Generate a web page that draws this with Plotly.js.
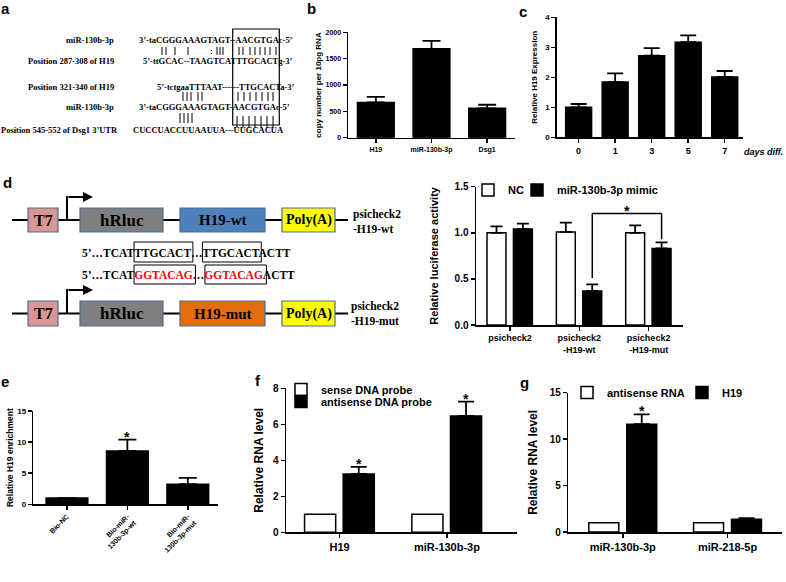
<!DOCTYPE html>
<html><head><meta charset="utf-8">
<script src="https://cdn.plot.ly/plotly-3.0.1.min.js"></script>
<style>html,body{margin:0;padding:0;background:#fff}</style>
</head><body><div id="chart" style="width:786px;height:582px"></div>
<script>
// ---------- data ----------
const bCats = ['H19', 'miR-130b-3p', 'Dsg1'];
const bVals = [670, 1686, 557];
const bErr = [106, 151, 68];

const cCats = ['0', '1', '3', '5', '7'];
const cVals = [1.0, 1.84, 2.72, 3.17, 2.01];
const cErr = [0.11, 0.29, 0.25, 0.23, 0.20];

const dCats = ['psicheck2', 'psicheck2<br>-H19-wt', 'psicheck2<br>-H19-mut'];
const dNC = [1.0, 1.01, 1.0];
const dNCErr = [0.07, 0.10, 0.08];
const dMimic = [1.04, 0.37, 0.83];
const dMimicErr = [0.06, 0.07, 0.066];

const eCats = ['Bio-NC', 'Bio-miR-<br>130b-3p-wt', 'Bio-miR-<br>130b-3p-mut'];
const eVals = [1.0, 8.57, 3.24];
const eErr = [0, 1.83, 1.02];

const fCats = ['H19', 'miR-130b-3p'];
const fSense = [1.0, 1.0];
const fAnti = [3.24, 6.46];
const fAntiErr = [0.39, 0.80];

const gCats = ['miR-130b-3p', 'miR-218-5p'];
const gAntisense = [1.0, 1.0];
const gH19 = [11.6, 1.36];
const gH19Err = [1.07, 0.12];

// ---------- helpers ----------
const W = 786, H = 582;
const px = x => x / W;
const py = y => 1 - y / H;
const SANS = 'Arial, "Liberation Sans", sans-serif';
const SERIF = '"Liberation Serif", "Times New Roman", serif';
const fnt = (size, extra) => Object.assign({family: SANS, size: size, color: '#000', weight: 'bold'}, extra || {});

function axis(domain, extra) {
  return Object.assign({
    domain: domain, showline: true, linecolor: '#000', linewidth: 1.5,
    ticks: 'outside', ticklen: 4, tickwidth: 1.5, tickcolor: '#000',
    showgrid: false, zeroline: false, fixedrange: true, tickfont: fnt(8)
  }, extra);
}
function errUp(arr, w) {
  return {type: 'data', array: arr, arrayminus: arr.map(() => 0), symmetric: false,
          color: '#000', thickness: 1.8, width: w};
}
const blackBar = {color: '#000', line: {color: '#000', width: 1.5}};
const whiteBar = {color: '#fff', line: {color: '#000', width: 1.5}};

// ---------- traces ----------
const traces = [
  {type: 'bar', x: bCats, y: bVals, xaxis: 'x', yaxis: 'y', width: 0.66, marker: blackBar,
   error_y: errUp(bErr, 9), showlegend: false},
  {type: 'bar', x: cCats, y: cVals, xaxis: 'x2', yaxis: 'y2', width: 0.71, marker: blackBar,
   error_y: errUp(cErr, 8), showlegend: false},
  {type: 'bar', name: 'NC', x: dCats, y: dNC, xaxis: 'x3', yaxis: 'y3', width: 0.273, offset: -0.331,
   marker: whiteBar, error_y: errUp(dNCErr, 6), legend: 'legend'},
  {type: 'bar', name: 'miR-130b-3p mimic', x: dCats, y: dMimic, xaxis: 'x3', yaxis: 'y3', width: 0.273, offset: 0.05,
   marker: blackBar, error_y: errUp(dMimicErr, 6), legend: 'legend2'},
  {type: 'bar', x: eCats, y: eVals, xaxis: 'x4', yaxis: 'y4', width: 0.69, marker: blackBar,
   error_y: errUp(eErr, 9), showlegend: false},
  {type: 'bar', name: 'sense DNA probe', x: fCats, y: fSense, xaxis: 'x5', yaxis: 'y5', width: 0.29, offset: -0.327,
   marker: whiteBar, legend: 'legend3'},
  {type: 'bar', name: 'antisense DNA probe', x: fCats, y: fAnti, xaxis: 'x5', yaxis: 'y5', width: 0.29, offset: 0.033,
   marker: blackBar, error_y: errUp(fAntiErr, 8), legend: 'legend4'},
  {type: 'bar', name: 'antisense RNA', x: gCats, y: gAntisense, xaxis: 'x6', yaxis: 'y6', width: 0.286, offset: -0.324,
   marker: whiteBar, legend: 'legend5'},
  {type: 'bar', name: 'H19', x: gCats, y: gH19, xaxis: 'x6', yaxis: 'y6', width: 0.286, offset: 0.038,
   marker: blackBar, error_y: errUp(gH19Err, 8), legend: 'legend6'}
];

function legendAt(x, y, size) {
  return {x: px(x), y: py(y), xanchor: 'left', yanchor: 'middle', bgcolor: 'rgba(0,0,0,0)',
          borderwidth: 0, font: fnt(size), itemclick: false, itemdoubleclick: false};
}
const ytitle = (text, size, standoff) => ({text: text, font: fnt(size), standoff: standoff});

// ---------- annotations ----------
const ann = [];
function txt(x, y, text, size, opts) {
  ann.push(Object.assign({xref: 'paper', yref: 'paper', x: px(x), y: py(y), text: text,
    showarrow: false, xanchor: 'center', yanchor: 'middle', font: fnt(size)}, opts || {}));
}
const serif = (size, color) => ({family: SERIF, size: size, color: color || '#000', weight: 'bold'});

// ---------- shapes ----------
const shapes = [];
const pline = (x0, y0, x1, y1, w) => shapes.push({type: 'line', xref: 'paper', yref: 'paper',
  x0: px(x0), y0: py(y0), x1: px(x1), y1: py(y1), line: {color: '#000', width: w || 2}});
const prect = (x0, y0, x1, y1, fill, lc, w) => shapes.push({type: 'rect', xref: 'paper', yref: 'paper',
  x0: px(x0), y0: py(y0), x1: px(x1), y1: py(y1), fillcolor: fill, line: {color: lc, width: w}});

// panel letters
[['a', 5, 9], ['b', 311, 9], ['c', 523, 11], ['d', 7, 182], ['e', 5, 381], ['f', 258, 380], ['g', 524, 382]]
  .forEach(p => txt(p[1], p[2], p[0], 15));

// panel a alignment text
const aLabels = [['miR-130b-3p', 40.5], ['Position 287-308 of H19', 61.5], ['Position 321-340 of H19', 86.5],
                 ['miR-130b-3p', 107]];
aLabels.forEach(l => txt(116, l[1], l[0], 8.5, {xanchor: 'right', font: serif(8.5)}));
txt(120, 130, 'Position 545-552 of Dsg1 3\u2019UTR', 8.5, {xanchor: 'right', font: serif(8.5)});
txt(137, 40.5, '3\u2019-taCGGGAAAGTAGT--AACGTGAc-5\u2019', 8.5, {xanchor: 'left', font: serif(8.5)});
txt(141, 61.5, '5\u2019-ttGCAC--TAAGTCATTTGCACTg-3\u2019', 8.5, {xanchor: 'left', font: serif(8.5)});
txt(155, 86.5, '5\u2019-tctgaaTTTAAT------TTGCACTa-3\u2019', 8.5, {xanchor: 'left', font: serif(8.5)});
txt(137, 107, '3\u2019-taCGGGAAAGTAGT-AACGTGAc-5\u2019', 8.5, {xanchor: 'left', font: serif(8.5)});
txt(131, 130, 'CUCCUACCUUAAUUA---UUGCACUA', 8.5, {xanchor: 'left', font: serif(8.5)});
txt(211.5, 51, ':', 8, {font: fnt(8)});
// base-pairing ticks (drawn as short strokes)
const pairRows = [
  [47, 55, [162, 166, 175, 188, 217, 220, 223, 239, 243, 250, 255, 260, 265, 270, 276]],
  [92, 101, [183, 187, 191, 198, 202, 238, 244, 250, 256, 262, 268, 273]],
  [113, 123, [180, 184, 188, 192]],
  [116, 128, [237, 243, 249, 255, 261, 267, 273]]
];
pairRows.forEach(r => r[2].forEach(x => pline(x, r[0], x, r[1], 1)));

// panel c extra text
txt(742, 152, 'days diff.', 9, {xanchor: 'left', font: fnt(9, {style: 'italic'})});

// panel d diagram text
['top', 'bottom'].forEach((row, i) => {
  const yc = i === 0 ? 220 : 313.5;
  txt(43, yc, 'T7', 16, {font: serif(16)});
  txt(121.5, yc, 'hRluc', 17, {font: serif(17)});
  txt(222.5, yc, i === 0 ? 'H19-wt' : 'H19-mut', 15, {font: serif(15)});
  txt(308.5, yc, 'Poly(A)', 14, {font: serif(14)});
});
txt(351, 221, 'psicheck2<br>-H19-wt', 11.5, {xanchor: 'left', align: 'left', font: serif(11.5)});
txt(349, 313.5, 'psicheck2<br>-H19-mut', 11.5, {xanchor: 'left', align: 'left', font: serif(11.5)});
// sequences: one text per row, boxes placed from Times-Bold glyph widths
const FS = 11.5, X0 = 82;
const wPre = 4.611 * FS, wWt = 4.945 * FS, wMut = 5.167 * FS, wDots = 1.0 * FS;
txt(X0 - 2, 252.5, '5\u2019\u2026TCATTTGCACT\u2026TTGCACTACTT', FS, {xanchor: 'left', font: serif(FS)});
txt(X0 - 2, 275, '5\u2019\u2026TCAT<span style="color:#ff0000">GGTACAG</span>\u2026' +
    '<span style="color:#ff0000">GGTACAG</span>ACTT', FS, {xanchor: 'left', font: serif(FS)});
let s1 = X0 + wPre;
prect(s1 - 1, 242, s1 + wWt + 1, 262, 'rgba(0,0,0,0)', '#000', 1);
prect(s1 + wWt + wDots - 1, 242, s1 + 2 * wWt + wDots + 1, 262, 'rgba(0,0,0,0)', '#000', 1);
prect(s1 - 1, 265, s1 + wMut + 1, 284, 'rgba(0,0,0,0)', '#000', 1);
prect(s1 + wMut + wDots - 1, 265, s1 + 2 * wMut + wDots + 1, 284, 'rgba(0,0,0,0)', '#000', 1);
// promoter arrows
[197, 290].forEach(yy => ann.push({xref: 'paper', yref: 'paper', x: px(93), y: py(yy), ax: -26, ay: 0,
  text: '', showarrow: true, arrowhead: 2, arrowsize: 1, arrowwidth: 2, arrowcolor: '#000'}));

// significance stars (data coordinates)
const star = (xref, yref, x, y) => ann.push({xref: xref, yref: yref, x: x, y: y, text: '*', showarrow: false,
  yanchor: 'middle', yshift: -3, font: fnt(14)});
star('x3', 'y3', 1.69, 1.27);
star('x4', 'y4', 1, 11.3);
star('x5', 'y5', 0.178, 3.95);
star('x5', 'y5', 1.178, 7.55);
star('x6', 'y6', 0.181, 13.4);

// panel a box
prect(232.7, 29, 279.3, 125, 'rgba(0,0,0,0)', '#000', 1.2);
// panel d constructs
pline(12, 220, 348, 220, 2);
pline(12, 313.5, 348, 313.5, 2);
const OL = '#4a6d94';
prect(28, 208, 58, 232, '#d99694', OL, 1.2);
prect(80, 208, 163, 232, '#7f7f7f', OL, 1.2);
prect(180, 208, 265, 232, '#4f81bd', OL, 1.2);
prect(282, 208, 335, 232, '#ffff00', OL, 1.2);
prect(28, 301, 58, 326, '#d99694', OL, 1.2);
prect(80, 301, 163, 326, '#7f7f7f', OL, 1.2);
prect(180, 301, 265, 326, '#e46c0a', OL, 1.2);
prect(282, 301, 335, 326, '#ffff00', OL, 1.2);
pline(67, 220, 67, 196, 2);
pline(67, 313.5, 67, 289, 2);
// significance bracket on panel d (data coordinates)
const dl = (x0, y0, x1, y1) => shapes.push({type: 'line', xref: 'x3', yref: 'y3', x0: x0, y0: y0, x1: x1, y1: y1,
  line: {color: '#000', width: 1.5}});
dl(1.187, 0.51, 1.187, 1.21);
dl(1.187, 1.21, 2.187, 1.21);
dl(2.187, 1.21, 2.187, 0.93);

// ---------- layout ----------
const layout = {
  width: W, height: H, margin: {l: 0, r: 0, t: 0, b: 0}, paper_bgcolor: '#fff', plot_bgcolor: 'rgba(0,0,0,0)',
  font: {family: SANS, color: '#000'},
  xaxis: axis([px(348), px(515)], {anchor: 'y', type: 'category', range: [-0.5, 2.5], tickfont: fnt(7)}),
  yaxis: axis([py(137.7), py(32.3)], {anchor: 'x', range: [0, 2000], dtick: 500, tickfont: fnt(7),
    title: ytitle('copy number per 10pg RNA', 8, 2)}),
  xaxis2: axis([px(556.7), px(743)], {anchor: 'y2', type: 'category', range: [-0.6, 4.5], tickfont: fnt(9)}),
  yaxis2: axis([py(137.3), py(17.3)], {anchor: 'x2', range: [0, 4], dtick: 1, tickfont: fnt(8),
    title: ytitle('Relative H19 Expression', 8, 6)}),
  xaxis3: axis([px(476), px(683.3)], {anchor: 'y3', type: 'category', range: [-0.49, 2.5], tickfont: fnt(9)}),
  yaxis3: axis([py(325), py(186.7)], {anchor: 'x3', range: [0, 1.5], tickvals: [0, 0.5, 1, 1.5],
    tickformat: '.1f', tickfont: fnt(10), title: ytitle('Relative luciferase activity', 11, 13)}),
  xaxis4: axis([px(33.3), px(218)], {anchor: 'y4', type: 'category', range: [-0.557, 2.5], tickangle: -45,
    tickfont: fnt(7)}),
  yaxis4: axis([py(504.3), py(411)], {anchor: 'x4', range: [0, 15], dtick: 5, tickfont: fnt(8),
    title: ytitle('Relative H19 enrichment', 8.5, 2)}),
  xaxis5: axis([px(286), px(516.7)], {anchor: 'y5', type: 'category', range: [-0.5, 1.65], tickfont: fnt(11)}),
  yaxis5: axis([py(532.3), py(388.3)], {anchor: 'x5', range: [0, 8], dtick: 2, tickfont: fnt(10),
    title: ytitle('Relative RNA level', 12, 6)}),
  xaxis6: axis([px(568.3), px(782)], {anchor: 'y6', type: 'category', range: [-0.52, 1.52], tickfont: fnt(11)}),
  yaxis6: axis([py(532), py(392.7)], {anchor: 'x6', range: [0, 15], dtick: 5, tickfont: fnt(10),
    title: ytitle('Relative RNA level', 12, 9)}),
  legend: legendAt(468, 190, 11),
  legend2: legendAt(517, 190, 11),
  legend3: legendAt(281, 389.5, 11),
  legend4: legendAt(281, 401.5, 11),
  legend5: legendAt(567, 392.5, 11),
  legend6: legendAt(682, 392.5, 11),
  annotations: ann,
  shapes: shapes
};

Plotly.newPlot('chart', traces, layout, {displayModeBar: false, staticPlot: true});
</script>
</body></html>
